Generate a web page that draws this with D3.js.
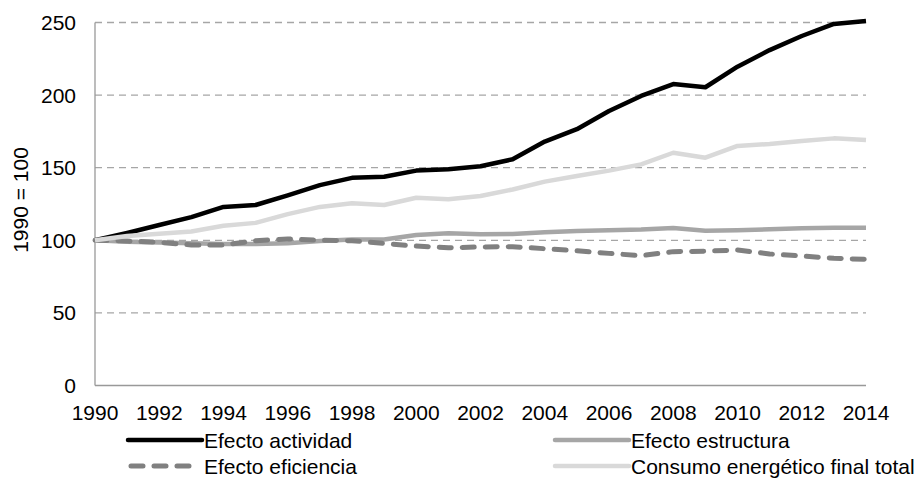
<!DOCTYPE html>
<html>
<head>
<meta charset="utf-8">
<script src="https://cdn.jsdelivr.net/npm/d3@7"></script>
<style>
  body { margin: 0; background: #fff; }
  text { font-family: "Liberation Sans", Arial, sans-serif; fill: #000; }
</style>
</head>
<body>
<div class="chart"></div>
<script>
// years on x, index 1990 = 100
var years = d3.range(1990, 2015);
var tickYears = d3.range(1990, 2015, 2);
var yTicks = [0, 50, 100, 150, 200, 250];

var actividad = [100, 105, 110.5, 116, 123, 124.3, 131, 138, 143, 143.8, 148, 149, 151, 155.8,
  168, 176.5, 189, 199.4, 207.6, 205.4, 219.6, 231, 240.7, 249, 251];
var estructura = [100, 99, 98.5, 98, 97.5, 97.5, 98, 99.5, 100.5, 100.5, 103.6, 104.8, 104.1, 104.3,
  105.5, 106.4, 107, 107.5, 108.5, 106.6, 107, 107.6, 108.3, 108.6, 108.6];
var eficiencia = [100, 99.5, 98.6, 96.8, 96.8, 99.7, 100.9, 100, 99.7, 97.9, 96, 94.9, 95.4, 95.6,
  94.2, 92.8, 91, 89.4, 92.2, 92.5, 93.3, 90.6, 89.2, 87.6, 86.9];
var consumo = [100, 103, 104.5, 106, 110, 112, 118, 123, 125.5, 124.3, 129.3, 128.2, 130.5, 135,
  140.4, 144.3, 148, 152.3, 160.3, 156.9, 165, 166.3, 168.4, 170.2, 169];

var seriesNames = ["Efecto actividad", "Efecto estructura", "Efecto eficiencia", "Consumo energético final total"];
var seriesVals = [actividad, estructura, eficiencia, consumo];

var styles = [
  {color: "#000000", width: 4.5, dash: null},
  {color: "#a6a6a6", width: 4.5, dash: null},
  {color: "#808080", width: 5, dash: "12,11"},
  {color: "#d9d9d9", width: 4.5, dash: null}
];

var W = 918, H = 478;
var m = {left: 95, right: 52, top: 22.5, bottom: 92.5};
var fs = 21;

var svg = d3.select(".chart").append("svg")
  .attr("width", W)
  .attr("height", H);

var x = d3.scaleLinear().domain([1990, 2014]).range([m.left, W - m.right]);
var y = d3.scaleLinear().domain([0, 250]).range([H - m.bottom, m.top]);

// gridlines
svg.append("g").selectAll("line").data(yTicks.filter(function(d) { return d > 0; }))
  .enter().append("line")
  .attr("x1", m.left).attr("x2", W - m.right)
  .attr("y1", function(d) { return y(d); })
  .attr("y2", function(d) { return y(d); })
  .attr("stroke", "#a6a6a6")
  .attr("stroke-width", 1.3)
  .attr("stroke-dasharray", "7,5");

// axes lines
svg.append("line")
  .attr("x1", m.left).attr("x2", m.left)
  .attr("y1", y(250)).attr("y2", y(0))
  .attr("stroke", "#999").attr("stroke-width", 1.3);
svg.append("line")
  .attr("x1", m.left).attr("x2", W - m.right)
  .attr("y1", y(0)).attr("y2", y(0))
  .attr("stroke", "#999").attr("stroke-width", 1.3);

// y tick labels
svg.append("g").selectAll("text").data(yTicks)
  .enter().append("text")
  .attr("x", m.left - 19)
  .attr("y", function(d) { return y(d) + 7.5; })
  .attr("text-anchor", "end")
  .attr("font-size", fs)
  .text(function(d) { return d; });

// x tick labels
svg.append("g").selectAll("text").data(tickYears)
  .enter().append("text")
  .attr("x", function(d) { return x(d); })
  .attr("y", 420)
  .attr("text-anchor", "middle")
  .attr("font-size", fs)
  .text(function(d) { return d; });

// y title
svg.append("text")
  .attr("transform", "translate(28,200) rotate(-90)")
  .attr("text-anchor", "middle")
  .attr("font-size", fs)
  .text("1990 = 100");

var line = d3.line()
  .x(function(d, i) { return x(years[i]); })
  .y(function(d) { return y(d); });

svg.append("g").selectAll("path").data(seriesVals)
  .enter().append("path")
  .attr("d", function(d) { return line(d); })
  .attr("fill", "none")
  .attr("stroke", function(d, i) { return styles[i].color; })
  .attr("stroke-width", function(d, i) { return styles[i].width; })
  .attr("stroke-dasharray", function(d, i) { return styles[i].dash; })
  .attr("stroke-linecap", function(d, i) { return styles[i].dash ? "round" : "butt"; })
  .attr("stroke-linejoin", "round");

// legend, 2 columns x 2 rows
var legPos = [[128, 440], [555, 440], [128, 466], [555, 466]];
var leg = svg.append("g").selectAll("g").data(seriesNames)
  .enter().append("g")
  .attr("transform", function(d, i) { return "translate(" + legPos[i][0] + "," + legPos[i][1] + ")"; });

leg.append("line")
  .attr("x1", function(d, i) { return styles[i].dash ? 3 : 0; })
  .attr("x2", function(d, i) { return styles[i].dash ? 70 : 74; })
  .attr("y1", 0).attr("y2", 0)
  .attr("stroke", function(d, i) { return styles[i].color; })
  .attr("stroke-width", function(d, i) { return styles[i].width; })
  .attr("stroke-dasharray", function(d, i) { return styles[i].dash; })
  .attr("stroke-linecap", "round");

leg.append("text")
  .attr("x", 76)
  .attr("y", 7.5)
  .attr("font-size", fs)
  .text(function(d) { return d; });
</script>
</body>
</html>
